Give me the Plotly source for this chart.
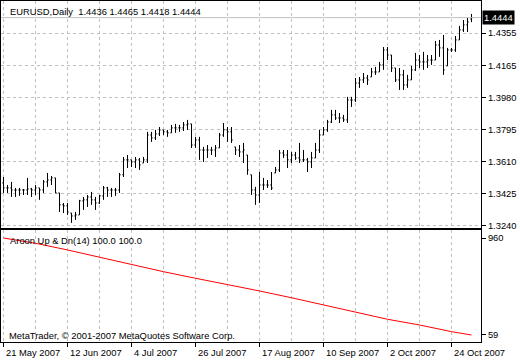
import pandas as pd
import plotly.graph_objects as go

# ---------------- data ----------------
dates = pd.bdate_range("2007-05-21", periods=118)

open_ = [1.3489, 1.3460, 1.3460, 1.3448, 1.3448, 1.3448, 1.3448, 1.3454, 1.3448, 1.3460,
         1.3448, 1.3495, 1.3506, 1.3518, 1.3431, 1.3362, 1.3356, 1.3315, 1.3298, 1.3304,
         1.3385, 1.3391, 1.3408, 1.3391, 1.3373, 1.3414, 1.3460, 1.3448, 1.3448, 1.3448,
         1.3536, 1.3622, 1.3622, 1.3610, 1.3622, 1.3604, 1.3622, 1.3766, 1.3749, 1.3772,
         1.3795, 1.3784, 1.3778, 1.3807, 1.3807, 1.3807, 1.3824, 1.3830, 1.3708, 1.3737,
         1.3679, 1.3679, 1.3679, 1.3679, 1.3691, 1.3766, 1.3795, 1.3784, 1.3697, 1.3679,
         1.3668, 1.3650, 1.3536, 1.3448, 1.3419, 1.3477, 1.3477, 1.3477, 1.3546, 1.3564,
         1.3662, 1.3650, 1.3622, 1.3650, 1.3633, 1.3622, 1.3622, 1.3610, 1.3633, 1.3679,
         1.3766, 1.3795, 1.3841, 1.3882, 1.3864, 1.3864, 1.3853, 1.3968, 1.3968, 1.4066,
         1.4084, 1.4095, 1.4101, 1.4130, 1.4130, 1.4171, 1.4257, 1.4228, 1.4153, 1.4084,
         1.4113, 1.4055, 1.4084, 1.4142, 1.4199, 1.4188, 1.4188, 1.4199, 1.4199, 1.4286,
         1.4269, 1.4165, 1.4257, 1.4257, 1.4315, 1.4373, 1.4402, 1.4436]
high = [1.3523, 1.3477, 1.3495, 1.3460, 1.3460, 1.3454, 1.3518, 1.3460, 1.3477, 1.3460,
        1.3506, 1.3546, 1.3529, 1.3518, 1.3431, 1.3373, 1.3373, 1.3315, 1.3321, 1.3391,
        1.3408, 1.3419, 1.3437, 1.3408, 1.3419, 1.3471, 1.3466, 1.3460, 1.3460, 1.3546,
        1.3639, 1.3650, 1.3622, 1.3639, 1.3633, 1.3639, 1.3784, 1.3784, 1.3795, 1.3812,
        1.3795, 1.3795, 1.3824, 1.3830, 1.3824, 1.3841, 1.3853, 1.3830, 1.3755, 1.3755,
        1.3697, 1.3708, 1.3697, 1.3708, 1.3778, 1.3835, 1.3812, 1.3812, 1.3697, 1.3708,
        1.3720, 1.3650, 1.3536, 1.3466, 1.3552, 1.3518, 1.3506, 1.3552, 1.3581, 1.3679,
        1.3679, 1.3679, 1.3668, 1.3668, 1.3720, 1.3679, 1.3633, 1.3668, 1.3720, 1.3795,
        1.3812, 1.3853, 1.3911, 1.3911, 1.3893, 1.3882, 1.3986, 1.3986, 1.4095, 1.4101,
        1.4124, 1.4113, 1.4153, 1.4159, 1.4188, 1.4274, 1.4274, 1.4228, 1.4153, 1.4153,
        1.4142, 1.4113, 1.4165, 1.4240, 1.4228, 1.4246, 1.4228, 1.4228, 1.4309, 1.4315,
        1.4344, 1.4269, 1.4269, 1.4338, 1.4396, 1.4430, 1.4442, 1.4465]
low = [1.3431, 1.3431, 1.3408, 1.3408, 1.3414, 1.3419, 1.3419, 1.3408, 1.3419, 1.3391,
       1.3431, 1.3466, 1.3477, 1.3431, 1.3321, 1.3315, 1.3304, 1.3258, 1.3275, 1.3304,
       1.3333, 1.3350, 1.3362, 1.3333, 1.3368, 1.3391, 1.3408, 1.3408, 1.3414, 1.3431,
       1.3523, 1.3575, 1.3581, 1.3575, 1.3564, 1.3604, 1.3604, 1.3726, 1.3737, 1.3760,
       1.3766, 1.3755, 1.3778, 1.3778, 1.3784, 1.3789, 1.3795, 1.3691, 1.3691, 1.3622,
       1.3610, 1.3633, 1.3650, 1.3639, 1.3691, 1.3755, 1.3726, 1.3720, 1.3650, 1.3639,
       1.3604, 1.3536, 1.3419, 1.3362, 1.3373, 1.3448, 1.3460, 1.3448, 1.3546, 1.3552,
       1.3633, 1.3575, 1.3604, 1.3622, 1.3604, 1.3610, 1.3552, 1.3575, 1.3633, 1.3662,
       1.3766, 1.3784, 1.3835, 1.3853, 1.3835, 1.3841, 1.3835, 1.3928, 1.3957, 1.4038,
       1.4066, 1.4055, 1.4101, 1.4113, 1.4130, 1.4142, 1.4199, 1.4130, 1.4072, 1.4026,
       1.4026, 1.4038, 1.4084, 1.4136, 1.4153, 1.4142, 1.4153, 1.4171, 1.4199, 1.4217,
       1.4113, 1.4165, 1.4246, 1.4246, 1.4315, 1.4361, 1.4361, 1.4418]
close = [1.3460, 1.3460, 1.3448, 1.3448, 1.3448, 1.3448, 1.3454, 1.3448, 1.3460, 1.3448,
         1.3495, 1.3506, 1.3518, 1.3431, 1.3362, 1.3356, 1.3321, 1.3298, 1.3304, 1.3385,
         1.3391, 1.3408, 1.3391, 1.3373, 1.3414, 1.3460, 1.3448, 1.3448, 1.3448, 1.3536,
         1.3622, 1.3622, 1.3610, 1.3622, 1.3593, 1.3622, 1.3766, 1.3749, 1.3772, 1.3795,
         1.3784, 1.3778, 1.3807, 1.3807, 1.3807, 1.3824, 1.3830, 1.3708, 1.3737, 1.3679,
         1.3679, 1.3679, 1.3679, 1.3691, 1.3766, 1.3795, 1.3784, 1.3737, 1.3679, 1.3668,
         1.3679, 1.3564, 1.3448, 1.3419, 1.3477, 1.3477, 1.3477, 1.3460, 1.3564, 1.3662,
         1.3650, 1.3622, 1.3650, 1.3633, 1.3622, 1.3622, 1.3610, 1.3633, 1.3679, 1.3766,
         1.3795, 1.3841, 1.3882, 1.3864, 1.3864, 1.3853, 1.3968, 1.3968, 1.4066, 1.4084,
         1.4095, 1.4084, 1.4130, 1.4130, 1.4171, 1.4257, 1.4228, 1.4153, 1.4084, 1.4113,
         1.4055, 1.4084, 1.4142, 1.4199, 1.4188, 1.4188, 1.4199, 1.4199, 1.4286, 1.4269,
         1.4142, 1.4257, 1.4257, 1.4315, 1.4373, 1.4402, 1.4419, 1.4444]

aroon_bar = [0, 8, 16, 24, 32, 40, 48, 56, 64, 72, 80, 88, 96, 104, 112, 117]
aroon_val = [960, 911, 849, 781, 709, 647, 586, 530, 468, 405, 338, 270, 205, 152, 90, 59]

price_ticks = [1.4355, 1.4165, 1.3980, 1.3795, 1.3610, 1.3425, 1.3240]
ind_ticks = [960, 59]
date_tick_dates = ["2007-05-21", "2007-06-12", "2007-07-04", "2007-07-26",
                   "2007-08-17", "2007-09-10", "2007-10-02", "2007-10-24"]
date_tick_labels = ["21 May 2007", "12 Jun 2007", "4 Jul 2007", "26 Jul 2007",
                    "17 Aug 2007", "10 Sep 2007", "2 Oct 2007", "24 Oct 2007"]

title_text = "EURUSD,Daily\u00a0 1.4436 1.4465 1.4418 1.4444"
last_price = close[-1]

# ---------------- figure ----------------
W, H = 520, 360
FONT = "Liberation Sans, Arial, sans-serif"
FS = 9.4
GRID = "#C0C0C0"

xs = list(range(len(close)))
fig = go.Figure()
fig.add_trace(go.Ohlc(
    x=xs, open=open_, high=high, low=low, close=close,
    increasing=dict(line=dict(color="black", width=1)),
    decreasing=dict(line=dict(color="black", width=1)),
    tickwidth=0.3, hoverinfo="skip", xaxis="x", yaxis="y", showlegend=False))
fig.add_trace(go.Scatter(
    x=aroon_bar, y=aroon_val, mode="lines",
    line=dict(color="#FF0000", width=1), hoverinfo="skip",
    xaxis="x2", yaxis="y2", showlegend=False))

xdom = [1 / W, 481 / W]
xrng = [-0.625, 119.375]
main_dom = [1 - 228 / H, 1 - 1 / H]
ind_dom = [1 - 342 / H, 1 - 230 / H]

def py(v):
    return 1 - v / H

tick_pos = [int(dates.get_loc(pd.Timestamp(d))) for d in date_tick_dates]

common_x = dict(domain=xdom, range=xrng, showline=True, mirror=True, linecolor="black",
                linewidth=1, zeroline=False, showgrid=True, gridcolor=GRID,
                griddash="3px,3px", gridwidth=1, showticklabels=False,
                automargin=False, fixedrange=True)

annotations = [
    dict(text=title_text, x=8 / W, y=py(12), xref="paper", yref="paper",
         xanchor="left", yanchor="middle", showarrow=False,
         font=dict(family=FONT, size=FS, color="black")),
    dict(text=f"{last_price:.4f}", x=482 / W, y=last_price, xref="paper", yref="y",
         xanchor="left", yanchor="middle", showarrow=False, bgcolor="black",
         borderpad=1, font=dict(family=FONT, size=FS, color="white")),
    dict(text="Aroon Up &amp; Dn(14) 100.0 100.0", x=8 / W, y=py(241), xref="paper",
         yref="paper", xanchor="left", yanchor="middle", showarrow=False,
         font=dict(family=FONT, size=FS, color="black")),
    dict(text="MetaTrader, \u00a9 2001-2007 MetaQuotes Software Corp.", x=7 / W,
         y=py(335), xref="paper", yref="paper", xanchor="left", yanchor="middle",
         showarrow=False, font=dict(family=FONT, size=FS, color="black")),
]
for p, lab in zip(tick_pos, date_tick_labels):
    annotations.append(dict(text=lab, x=p, y=py(352), xref="x2", yref="paper",
                            xanchor="left", yanchor="middle", xshift=0, showarrow=False,
                            font=dict(family=FONT, size=FS, color="black")))

fig.update_layout(
    width=W, height=H, margin=dict(l=0, r=0, t=0, b=0, autoexpand=False),
    paper_bgcolor="white", plot_bgcolor="white", showlegend=False,
    font=dict(family=FONT, size=FS, color="black"),
    xaxis=dict(**common_x, anchor="y", tickmode="linear", tick0=0, dtick=8, ticks="",
               rangeslider=dict(visible=False)),
    yaxis=dict(domain=main_dom, range=[1.32284, 1.4540], side="right", anchor="x",
               tickmode="array", tickvals=price_ticks,
               ticktext=[f"{v:.4f}" for v in price_ticks],
               ticks="outside", ticklen=4, tickcolor="black", showline=True, mirror=True,
               linecolor="black", linewidth=1, showgrid=True, gridcolor=GRID,
               griddash="3px,3px", zeroline=False, automargin=False, fixedrange=True,
               tickfont=dict(family=FONT, size=FS, color="black")),
    xaxis2=dict(**common_x, anchor="y2", tickmode="array", tickvals=tick_pos,
                ticks="outside", ticklen=4, tickcolor="black",
                minor=dict(tickmode="linear", tick0=0, dtick=8, showgrid=True,
                           gridcolor=GRID, griddash="3px,3px", ticks="")),
    yaxis2=dict(domain=ind_dom, range=[-6.1, 1034.3], side="right", anchor="x2",
                tickmode="array", tickvals=ind_ticks, ticktext=[str(v) for v in ind_ticks],
                ticks="outside", ticklen=4, tickcolor="black", showline=True, mirror=True,
                linecolor="black", linewidth=1, showgrid=False, zeroline=False,
                automargin=False, fixedrange=True,
                tickfont=dict(family=FONT, size=FS, color="black")),
    shapes=[dict(type="line", xref="x domain", yref="y", x0=0, x1=1,
                 y0=last_price, y1=last_price, line=dict(color=GRID, width=1))],
    annotations=annotations,
)

fig.write_html("out.html", config={"displayModeBar": False},
               post_script="document.body.style.margin='0px';"
                           "document.body.style.overflow='hidden';")
